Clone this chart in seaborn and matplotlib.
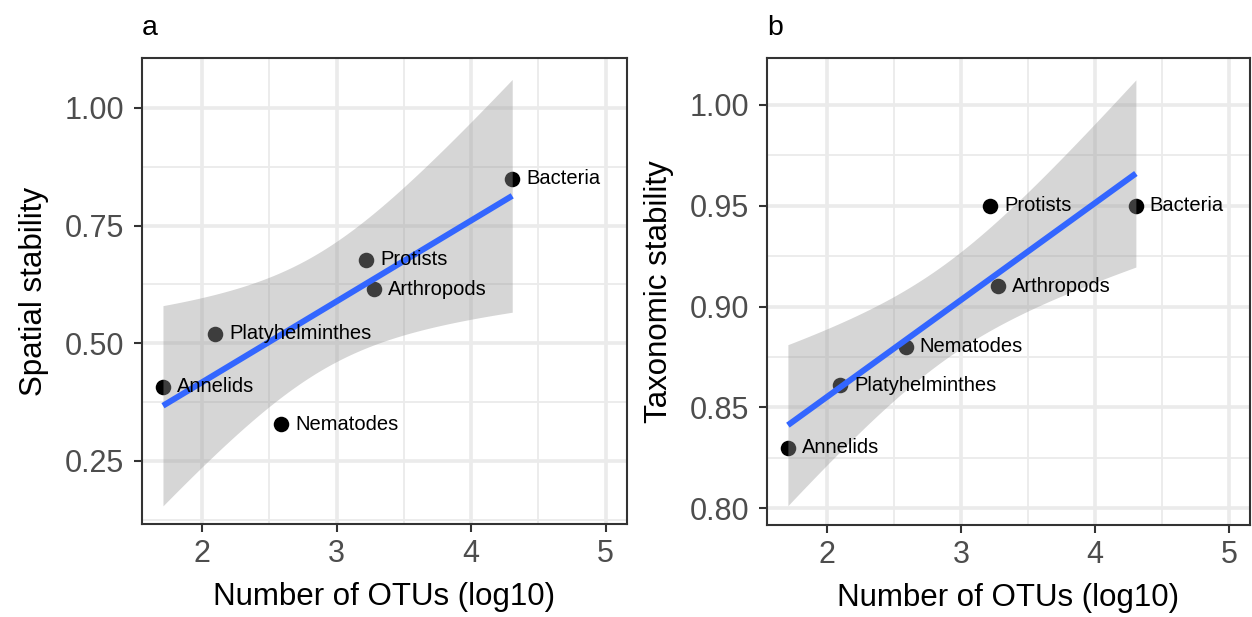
import numpy as np
import pandas as pd
import seaborn as sns
import matplotlib.pyplot as plt

# data
groups = ['Annelids', 'Platyhelminthes', 'Nematodes', 'Protists', 'Arthropods', 'Bacteria']
otus_log10 = [1.71, 2.10, 2.59, 3.22, 3.28, 4.305]
spatial = [0.408, 0.52, 0.328, 0.677, 0.615, 0.849]
taxonomic = [0.830, 0.861, 0.880, 0.950, 0.910, 0.950]

sns.set_style("white")
plt.rcParams['font.family'] = ['Liberation Sans', 'DejaVu Sans']

T975_DF4 = 2.776  # t quantile for 95% CI, n-2 = 4 df


def lm_band(x, y, grid):
    x = np.asarray(x)
    y = np.asarray(y)
    b1, b0 = np.polyfit(x, y, 1)
    resid = y - (b0 + b1 * x)
    n = len(x)
    s = np.sqrt(np.sum(resid ** 2) / (n - 2))
    sxx = np.sum((x - x.mean()) ** 2)
    se = s * np.sqrt(1 / n + (grid - x.mean()) ** 2 / sxx)
    fit = b0 + b1 * grid
    return fit - T975_DF4 * se, fit + T975_DF4 * se


def panel(ax, yvals, ylabel, ylim, yticks, yminor, tag):
    df = pd.DataFrame({'x': otus_log10, 'y': yvals, 'g': groups})
    sns.regplot(data=df, x='x', y='y', ax=ax, ci=None, truncate=True,
                scatter_kws=dict(s=125, color='black', alpha=1, zorder=2, linewidths=0),
                line_kws=dict(color='#3366FF', lw=4.3, zorder=4, solid_capstyle='butt'))
    grid = np.linspace(df.x.min(), df.x.max(), 100)
    lo, hi = lm_band(df.x, df.y, grid)
    ax.fill_between(grid, lo, hi, color='#999999', alpha=0.4, lw=0, zorder=3)
    for _, r in df.iterrows():
        ax.annotate(r.g, (r.x, r.y), xytext=(10, 0), textcoords='offset points',
                    va='center', ha='left', fontsize=14.5, color='black', zorder=5)

    ax.set_xlim(1.554, 5.156)
    ax.set_ylim(*ylim)
    ax.set_xticks([2, 3, 4, 5])
    ax.set_xticks([2.5, 3.5, 4.5], minor=True)
    ax.set_yticks(yticks)
    ax.set_yticks(yminor, minor=True)
    ax.set_yticklabels([f'{v:.2f}' for v in yticks])
    ax.grid(which='major', color='#EBEBEB', lw=2.6, zorder=0)
    ax.grid(which='minor', color='#EBEBEB', lw=1.3, zorder=0)
    ax.set_axisbelow(True)
    ax.tick_params(which='major', length=6, width=1.5, color='#333333',
                   labelsize=22, labelcolor='#4D4D4D', left=True, bottom=True)
    ax.tick_params(axis='x', which='major', pad=5)
    ax.tick_params(axis='y', which='major', pad=7)
    ax.tick_params(which='minor', length=0)
    for sp in ax.spines.values():
        sp.set_color('#333333')
        sp.set_linewidth(1.5)
        sp.set_visible(True)
    ax.set_xlabel('Number of OTUs (log10)', fontsize=22.5, labelpad=9, color='black')
    ax.set_ylabel(ylabel, fontsize=22.5, labelpad=11, color='black')
    ax.text(0, 1.05, tag, transform=ax.transAxes, fontsize=20.5, va='baseline', ha='left',
            color='black')


fig = plt.figure(figsize=(12.52, 6.17), dpi=100)
ax_a = fig.add_axes([0.1134, 0.1507, 0.3872, 0.7553])
ax_b = fig.add_axes([0.6126, 0.1491, 0.3858, 0.7569])

panel(ax_a, spatial, 'Spatial stability', (0.116, 1.106),
      [0.25, 0.50, 0.75, 1.00], [0.125, 0.375, 0.625, 0.875], 'a')
panel(ax_b, taxonomic, 'Taxonomic stability', (0.7916, 1.0233),
      [0.80, 0.85, 0.90, 0.95, 1.00], [0.825, 0.875, 0.925, 0.975], 'b')

fig.savefig('out.png', dpi=100)
